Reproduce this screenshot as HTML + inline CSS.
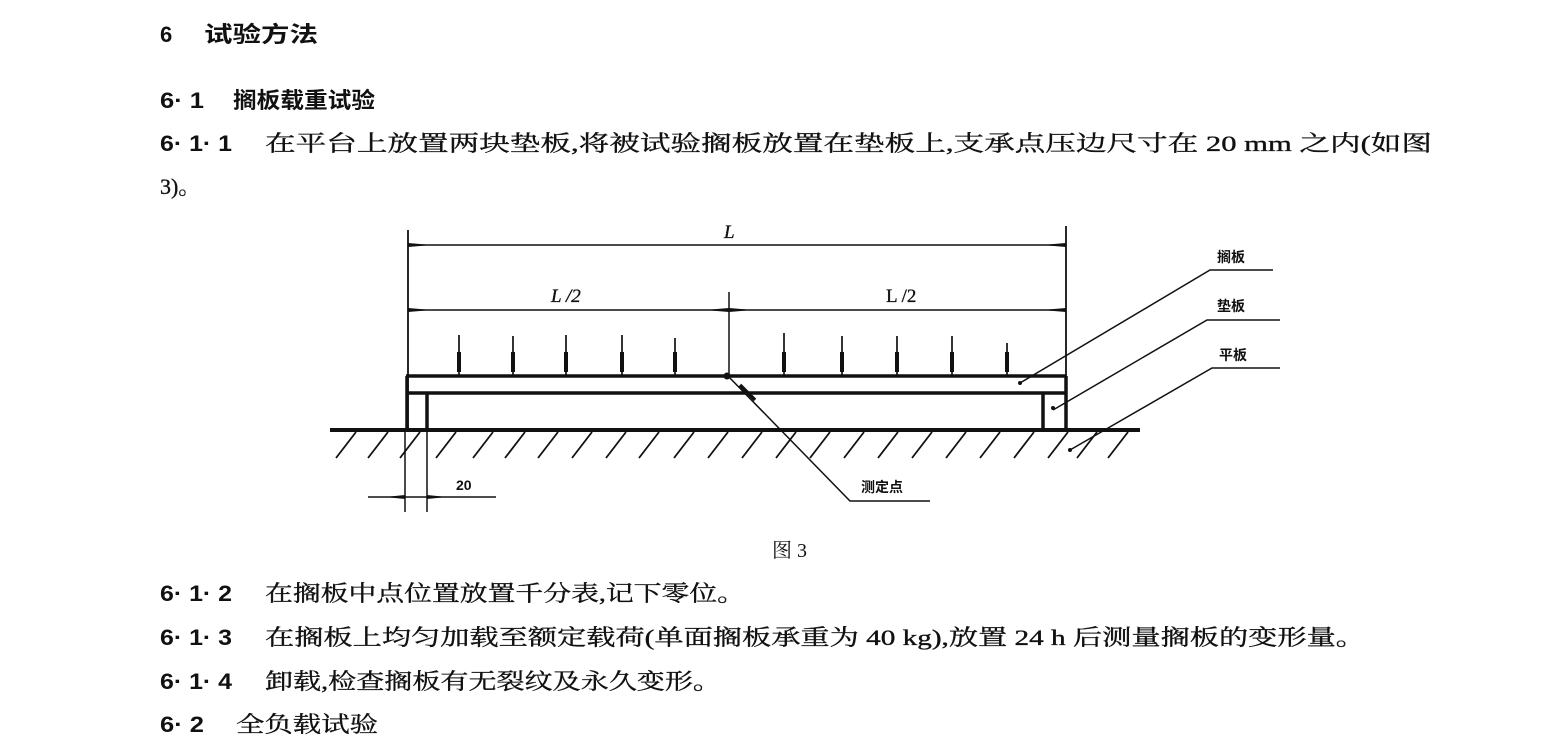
<!DOCTYPE html>
<html><head><meta charset="utf-8"><style>
html,body{margin:0;padding:0;background:#fff;}
svg{display:block}
text{font-family:"Liberation Serif","Noto Serif CJK SC","Noto Sans CJK SC",serif;fill:#111}
.b{stroke:#111;stroke-width:0.35}
.h{font-family:"Liberation Sans","Noto Sans CJK SC",sans-serif;font-weight:bold}
.n{font-family:"Liberation Sans","Noto Sans CJK SC",sans-serif;font-weight:bold}
.s{font-family:"Liberation Sans","Noto Sans CJK SC",sans-serif;font-weight:bold;font-size:14px}
</style></head><body>
<svg width="1548" height="734" viewBox="0 0 1548 734" xmlns="http://www.w3.org/2000/svg">
<g font-size="22">
<text x="160" y="42" class="h">6</text>
<text x="204" y="42" class="h" textLength="114" lengthAdjust="spacingAndGlyphs">试验方法</text>
<text x="160" y="108" class="n" textLength="44" lengthAdjust="spacingAndGlyphs">6· 1</text>
<text x="233" y="108" class="h" textLength="142" lengthAdjust="spacingAndGlyphs">搁板载重试验</text>
<text x="160" y="151" class="n" textLength="72" lengthAdjust="spacingAndGlyphs">6· 1· 1</text>
<text x="265" y="151" class="b" textLength="1167" lengthAdjust="spacingAndGlyphs">在平台上放置两块垫板,将被试验搁板放置在垫板上,支承点压边尺寸在 20 mm 之内(如图</text>
<text x="160" y="194" class="b">3)。</text>
<text x="160" y="601" class="n" textLength="72" lengthAdjust="spacingAndGlyphs">6· 1· 2</text>
<text x="265" y="601" class="b" textLength="480" lengthAdjust="spacingAndGlyphs">在搁板中点位置放置千分表,记下零位。</text>
<text x="160" y="645" class="n" textLength="72" lengthAdjust="spacingAndGlyphs">6· 1· 3</text>
<text x="265" y="645" class="b" textLength="1100" lengthAdjust="spacingAndGlyphs">在搁板上均匀加载至额定载荷(单面搁板承重为 40 kg),放置 24 h 后测量搁板的变形量。</text>
<text x="160" y="689" class="n" textLength="72" lengthAdjust="spacingAndGlyphs">6· 1· 4</text>
<text x="265" y="689" class="b" textLength="456" lengthAdjust="spacingAndGlyphs">卸载,检查搁板有无裂纹及永久变形。</text>
<text x="160" y="732" class="n" textLength="44" lengthAdjust="spacingAndGlyphs">6· 2</text>
<text x="236" y="732" class="b" textLength="142" lengthAdjust="spacingAndGlyphs">全负载试验</text>
</g>
<text x="772" y="557" font-size="20">图 3</text>
<g stroke="#111" fill="none">
<line x1="408" y1="230" x2="408" y2="430" stroke-width="1.8"/>
<line x1="1066" y1="226" x2="1066" y2="430" stroke-width="1.8"/>
<line x1="729" y1="292" x2="729" y2="375" stroke-width="1.5"/>
<line x1="408" y1="245" x2="1066" y2="245" stroke-width="1.6"/>
<line x1="408" y1="310" x2="1066" y2="310" stroke-width="1.6"/>
<line x1="406" y1="376" x2="1066" y2="376" stroke-width="3.5"/>
<line x1="406" y1="393" x2="1066" y2="393" stroke-width="3.5"/>
<line x1="407" y1="376" x2="407" y2="430" stroke-width="3.5"/>
<line x1="1066" y1="376" x2="1066" y2="430" stroke-width="3.5"/>
<line x1="427" y1="393" x2="427" y2="430" stroke-width="3.5"/>
<line x1="1043" y1="393" x2="1043" y2="430" stroke-width="3.5"/>
<line x1="330" y1="430" x2="1140" y2="430" stroke-width="4"/>
<line x1="405" y1="430" x2="405" y2="512" stroke-width="1.5"/>
<line x1="427" y1="430" x2="427" y2="512" stroke-width="1.5"/>
<line x1="368" y1="497" x2="496" y2="497" stroke-width="1.5"/>
<polyline points="727,375 850,501 930,501" stroke-width="1.5"/>
<line x1="740" y1="385" x2="755" y2="400" stroke-width="3.5"/>
<polyline points="1020,383 1210,270 1273,270" stroke-width="1.5"/>
<polyline points="1053,410 1207,320 1280,320" stroke-width="1.5"/>
<polyline points="1070,450 1212,368 1280,368" stroke-width="1.5"/>
</g>
<g fill="#111">
<path d="M408 243 L432 245 L408 247Z"/><path d="M1066 243 L1042 245 L1066 247Z"/>
<path d="M408 308 L432 310 L408 312Z"/><path d="M729 308 L705 310 L729 312Z"/>
<path d="M729 308 L753 310 L729 312Z"/><path d="M1066 308 L1042 310 L1066 312Z"/>
<path d="M405 495 L385 497 L405 499Z"/><path d="M427 495 L447 497 L427 499Z"/>
<circle cx="727" cy="376" r="3.5"/>
<circle cx="1020" cy="383" r="2"/><circle cx="1053" cy="408" r="2"/><circle cx="1070" cy="450" r="2"/>
</g>
<g stroke="#111" stroke-width="1.7">
<line x1="459" y1="335" x2="459" y2="375"/><line x1="513" y1="336" x2="513" y2="375"/>
<line x1="566" y1="335" x2="566" y2="375"/><line x1="622" y1="335" x2="622" y2="375"/>
<line x1="675" y1="338" x2="675" y2="375"/><line x1="784" y1="333" x2="784" y2="375"/>
<line x1="842" y1="336" x2="842" y2="375"/><line x1="897" y1="336" x2="897" y2="375"/>
<line x1="952" y1="336" x2="952" y2="375"/><line x1="1007" y1="343" x2="1007" y2="375"/>
</g>
<g fill="#111">
<rect x="457" y="352" width="4" height="20"/><rect x="511" y="352" width="4" height="20"/>
<rect x="564" y="352" width="4" height="20"/><rect x="620" y="352" width="4" height="20"/>
<rect x="673" y="352" width="4" height="20"/><rect x="782" y="352" width="4" height="20"/>
<rect x="840" y="352" width="4" height="20"/><rect x="895" y="352" width="4" height="20"/>
<rect x="950" y="352" width="4" height="20"/><rect x="1005" y="352" width="4" height="20"/>
</g>
<g stroke="#111" stroke-width="1.8">
<line x1="356" y1="432" x2="336" y2="458"/><line x1="388" y1="432" x2="368" y2="458"/>
<line x1="420" y1="432" x2="400" y2="458"/><line x1="456" y1="432" x2="436" y2="458"/>
<line x1="493" y1="432" x2="473" y2="458"/><line x1="525" y1="432" x2="505" y2="458"/>
<line x1="558" y1="432" x2="538" y2="458"/><line x1="592" y1="432" x2="572" y2="458"/>
<line x1="626" y1="432" x2="606" y2="458"/><line x1="659" y1="432" x2="639" y2="458"/>
<line x1="694" y1="432" x2="674" y2="458"/><line x1="728" y1="432" x2="708" y2="458"/>
<line x1="762" y1="432" x2="742" y2="458"/><line x1="796" y1="432" x2="776" y2="458"/>
<line x1="830" y1="432" x2="810" y2="458"/><line x1="864" y1="432" x2="844" y2="458"/>
<line x1="898" y1="432" x2="878" y2="458"/><line x1="932" y1="432" x2="912" y2="458"/>
<line x1="966" y1="432" x2="946" y2="458"/><line x1="1000" y1="432" x2="980" y2="458"/>
<line x1="1034" y1="432" x2="1014" y2="458"/><line x1="1068" y1="432" x2="1048" y2="458"/>
<line x1="1097" y1="432" x2="1077" y2="458"/><line x1="1128" y1="432" x2="1108" y2="458"/>
</g>
<text x="724" y="238" font-size="19" font-style="italic" class="b">L</text>
<text x="551" y="302" font-size="19" font-style="italic" class="b">L /2</text>
<text x="886" y="302" font-size="19" class="b">L /2</text>
<text x="456" y="490" class="n" font-size="14" font-weight="normal">20</text>
<text x="1217" y="262" class="s">搁板</text>
<text x="1217" y="311" class="s">垫板</text>
<text x="1219" y="360" class="s">平板</text>
<text x="861" y="492" class="s">测定点</text>
</svg>
</body></html>
